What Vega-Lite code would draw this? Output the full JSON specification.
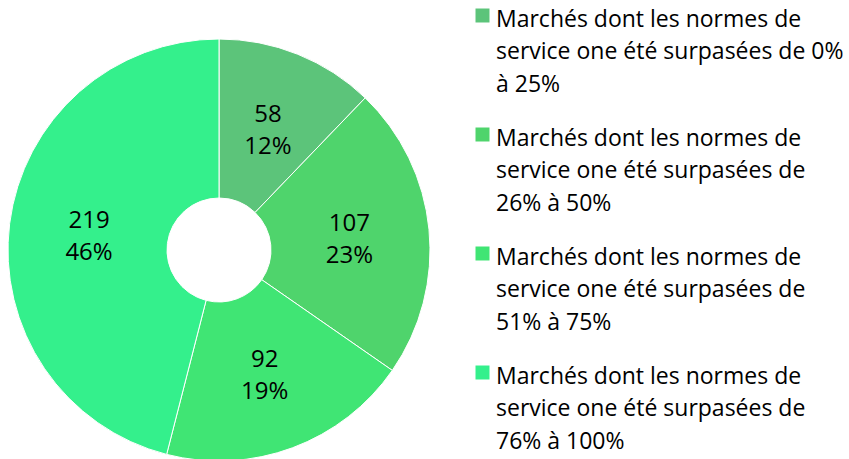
{
  "$schema": "https://vega.github.io/schema/vega-lite/v6.json",
  "width": 438,
  "height": 500,
  "autosize": {"type": "none"},
  "padding": {"left": 0, "top": 0, "right": 411, "bottom": 0},
  "background": "white",
  "data": {
    "values": [
      {"category": "Marchés dont les normes de\nservice one été surpasées de 0%\nà 25%", "order": 1, "count": 58, "label": "58\n12%"},
      {"category": "Marchés dont les normes de\nservice one été surpasées de\n26% à 50%", "order": 2, "count": 107, "label": "107\n23%"},
      {"category": "Marchés dont les normes de\nservice one été surpasées de\n51% à 75%", "order": 3, "count": 92, "label": "92\n19%"},
      {"category": "Marchés dont les normes de\nservice one été surpasées de\n76% à 100%", "order": 4, "count": 219, "label": "219\n46%"}
    ]
  },
  "encoding": {
    "theta": {"field": "count", "type": "quantitative", "stack": true},
    "order": {"field": "order", "type": "quantitative"}
  },
  "layer": [
    {
      "mark": {"type": "arc", "outerRadius": 211, "innerRadius": 52, "stroke": "white", "strokeWidth": 1},
      "encoding": {
        "color": {
          "field": "category",
          "type": "nominal",
          "sort": {"field": "order"},
          "scale": {"range": ["#5CC47A", "#4FD46C", "#40E574", "#34F08C"]},
          "legend": {
            "orient": "none",
            "legendX": 471,
            "legendY": 4,
            "title": null,
            "symbolType": "square",
            "symbolSize": 196,
            "symbolStrokeWidth": 0,
            "labelExpr": "split(datum.label, '\\n')",
            "labelFont": "Open Sans",
            "labelFontSize": 23,
            "labelColor": "#000000",
            "labelLimit": 400,
            "labelOffset": 2,
            "labelBaseline": "top",
            "rowPadding": 26
          }
        }
      }
    },
    {
      "mark": {"type": "text", "radius": 131, "dy": -13, "font": "Open Sans", "fontSize": 24, "lineBreak": "\n", "lineHeight": 32, "color": "black", "baseline": "middle"},
      "encoding": {
        "text": {"field": "label", "type": "nominal"}
      }
    }
  ],
  "config": {
    "view": {"stroke": null},
    "style": {"guide-label": {"lineHeight": 32.5, "dy": -7}}
  }
}
